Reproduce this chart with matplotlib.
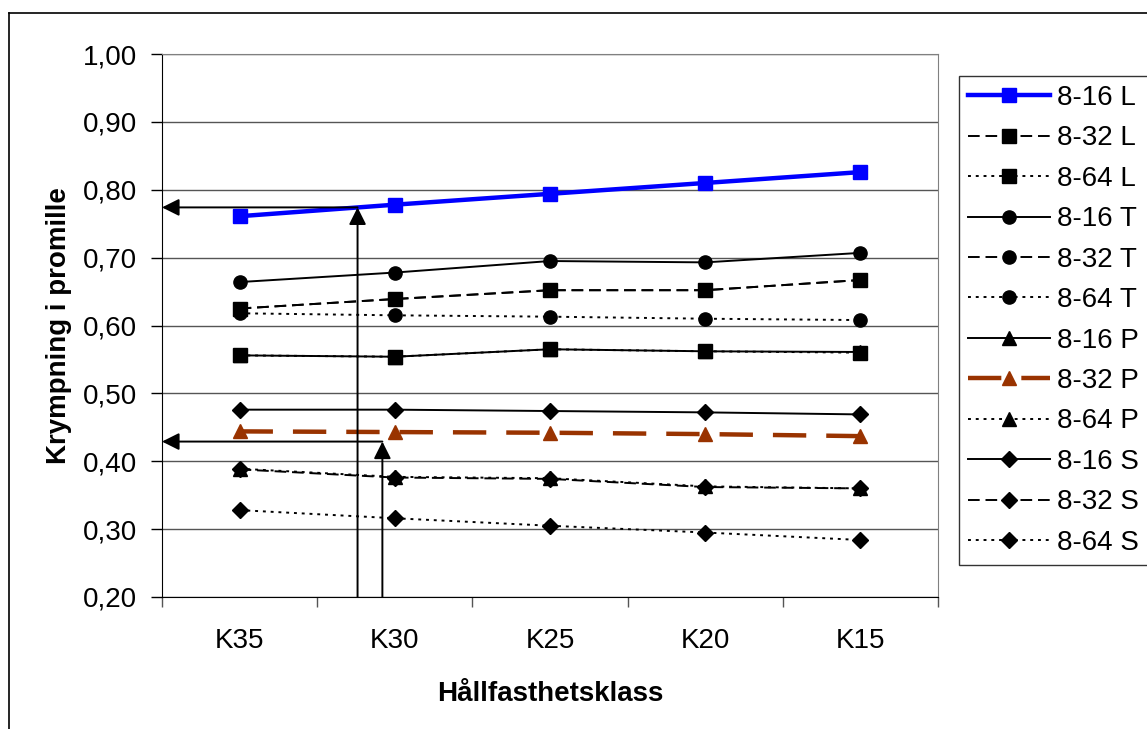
import matplotlib
matplotlib.use("Agg")
import matplotlib.pyplot as plt
from matplotlib.lines import Line2D
import numpy as np

plt.rc("font", family=["Liberation Sans", "DejaVu Sans"], size=20)

blue = "#0000FF"
brown = "#993300"

klasser = ["K35", "K30", "K25", "K20", "K15"]

l_16 = [0.761, 0.778, 0.794, 0.810, 0.826]
l_32 = [0.625, 0.639, 0.652, 0.652, 0.667]
l_64 = [0.556, 0.554, 0.565, 0.562, 0.560]
t_16 = [0.664, 0.678, 0.695, 0.693, 0.707]
t_32 = [0.625, 0.639, 0.652, 0.652, 0.667]
t_64 = [0.618, 0.615, 0.613, 0.610, 0.608]
p_16 = [0.556, 0.554, 0.565, 0.562, 0.561]
p_32 = [0.444, 0.443, 0.442, 0.440, 0.437]
p_64 = [0.389, 0.377, 0.375, 0.363, 0.360]
s_16 = [0.476, 0.476, 0.474, 0.472, 0.469]
s_32 = [0.388, 0.376, 0.374, 0.362, 0.360]
s_64 = [0.328, 0.316, 0.305, 0.295, 0.284]

# reading-off arrows: (category position, value)
pil_1 = (0.76, 0.774)
pil_2 = (0.92, 0.429)

x = np.arange(len(klasser))

fig = plt.figure(figsize=(11.47, 7.29), dpi=100)
ax = fig.add_axes([162 / 1147, 132 / 729, 776 / 1147, 543 / 729])

lw = 1.4
dashed = (0, (6, 3))
dotted = (0, (1.5, 2.5))
ms = 9.5
ms_d = 8.5

series = [
    (l_16, "8-16 L", dict(color=blue, lw=3.2, ls="-", marker="s", ms=ms)),
    (l_32, "8-32 L", dict(color="black", lw=lw, ls=dashed, marker="s", ms=ms)),
    (l_64, "8-64 L", dict(color="black", lw=lw, ls=dotted, marker="s", ms=ms)),
    (t_16, "8-16 T", dict(color="black", lw=lw, ls="-", marker="o", ms=ms)),
    (t_32, "8-32 T", dict(color="black", lw=lw, ls=dashed, marker="o", ms=ms)),
    (t_64, "8-64 T", dict(color="black", lw=lw, ls=dotted, marker="o", ms=ms)),
    (p_16, "8-16 P", dict(color="black", lw=lw, ls="-", marker="^", ms=ms)),
    (p_32, "8-32 P", dict(color=brown, lw=3.2, ls=(0, (7.5, 4.5)), marker="^", ms=ms)),
    (p_64, "8-64 P", dict(color="black", lw=lw, ls=dotted, marker="^", ms=ms)),
    (s_16, "8-16 S", dict(color="black", lw=lw, ls="-", marker="D", ms=ms_d)),
    (s_32, "8-32 S", dict(color="black", lw=lw, ls=dashed, marker="D", ms=ms_d)),
    (s_64, "8-64 S", dict(color="black", lw=lw, ls=dotted, marker="D", ms=ms_d)),
]

for vals, label, kw in series:
    ax.plot(x, vals, label=label, **kw)

# arrows from the x axis up to the line and across to the y axis
for px, py in (pil_1, pil_2):
    ax.annotate("", xy=(px, py), xytext=(px, 0.2),
                arrowprops=dict(arrowstyle="-|>", color="black", lw=1.4,
                                mutation_scale=26, shrinkA=0, shrinkB=0))
    ax.annotate("", xy=(-0.5, py), xytext=(px, py),
                arrowprops=dict(arrowstyle="-|>", color="black", lw=1.4,
                                mutation_scale=26, shrinkA=0, shrinkB=0))

ax.set_xlim(-0.5, 4.5)
ax.set_ylim(0.2, 1.0)
ax.set_yticks(np.arange(0.2, 1.001, 0.1))
ax.set_yticklabels([f"{v:.2f}".replace(".", ",") for v in np.arange(0.2, 1.001, 0.1)])
ax.set_xticks(np.arange(-0.5, 4.6, 1))
ax.set_xticklabels([])
ax.set_xticks(x, minor=True)
ax.set_xticklabels(klasser, minor=True)
ax.tick_params(axis="x", which="minor", length=0, pad=22)
ax.tick_params(axis="x", which="major", length=7, width=1, color="#555555")
ax.tick_params(axis="y", length=8, width=1, pad=10)
ax.yaxis.grid(True, color="#555555", lw=1)
ax.set_axisbelow(True)

for side in ("top", "right"):
    ax.spines[side].set_color("#808080")
for side in ("left", "bottom"):
    ax.spines[side].set_color("black")

ax.set_xlabel("Hållfasthetsklass", fontweight="bold", labelpad=20)
ax.set_ylabel("Krympning i promille", fontweight="bold", labelpad=8)

leg = fig.legend(loc="upper left", bbox_to_anchor=(959 / 1147, 1 - 76 / 729),
                 frameon=True, fancybox=False, edgecolor="black",
                 handlelength=2.95, handletextpad=0.25, labelspacing=0.52,
                 borderpad=0.32, borderaxespad=0)
leg.get_frame().set_linewidth(1)

# outer chart border
fig.add_artist(Line2D([9 / 1147, 9 / 1147], [0, 1 - 13 / 729], color="black", lw=1.2))
fig.add_artist(Line2D([9 / 1147, 1], [1 - 13 / 729, 1 - 13 / 729], color="black", lw=1.2))

fig.savefig("out.png", dpi=100)
